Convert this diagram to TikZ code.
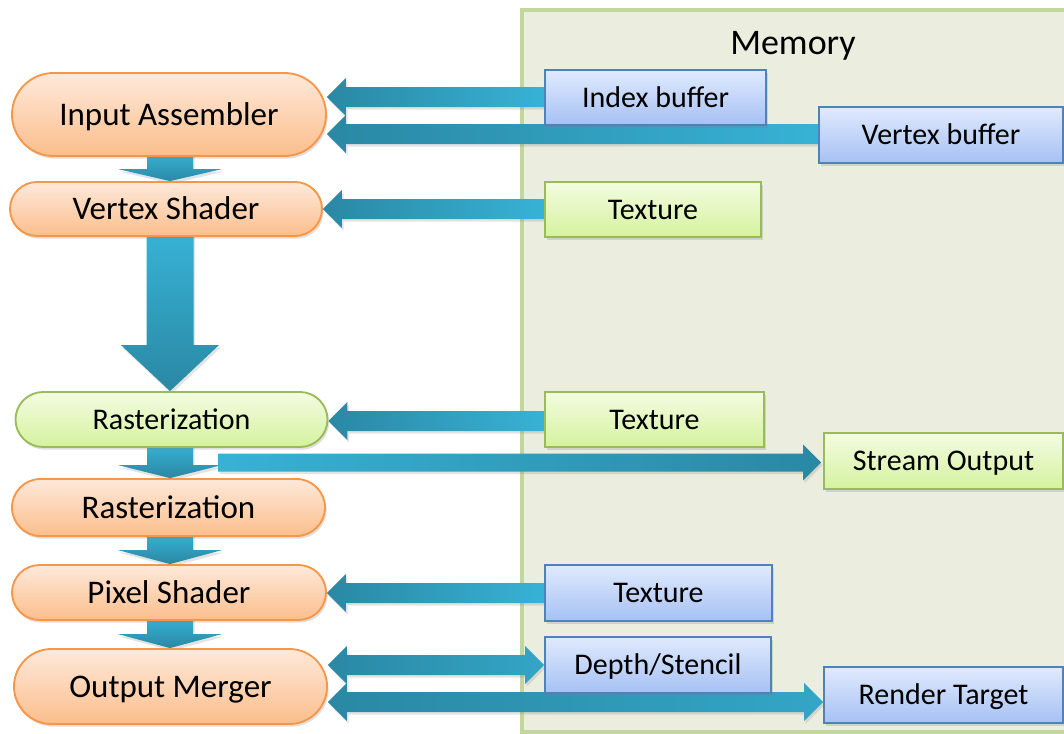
\documentclass[tikz,border=0pt]{standalone}
\usepackage{fontspec}
\setmainfont{Carlito}
\usetikzlibrary{calc,shadows,shapes.misc}
\pgfdeclarelayer{membg}
\pgfdeclarelayer{arr}
\pgfsetlayers{membg,arr,main}
\definecolor{orB}{HTML}{F79646}
\definecolor{orT}{HTML}{FEE9DA}
\definecolor{orM}{HTML}{FBBE8C}
\definecolor{grB}{HTML}{9BBB59}
\definecolor{grT}{HTML}{F3FCE2}
\definecolor{grM}{HTML}{D5F29E}
\definecolor{blB}{HTML}{4F81BD}
\definecolor{blT}{HTML}{E0EAFD}
\definecolor{blM}{HTML}{A6C1F4}
\definecolor{memF}{HTML}{EBEEDE}
\definecolor{memB}{HTML}{C3D69B}
\definecolor{alight}{HTML}{37B2D5}
\definecolor{adark}{HTML}{2A88A4}
\def\px{0.75pt}
\newcommand\leftarr[3]{%
  \shade[left color=adark, right color=alight, ashadow]
  let \p1=(#1.west), \p2=(#2.east) in
  (\x2,#3) -- (\x2+19*\px,#3-19) -- (\x2+19*\px,#3-10) -- (\x1,#3-10)
  -- (\x1,#3+10) -- (\x2+19*\px,#3+10) -- (\x2+19*\px,#3+19) -- cycle;}
\newcommand\dblarr[3]{%
  \shade[left color=adark, right color=alight!70!adark, ashadow]
  let \p1=(#1.east), \p2=(#2.west) in
  (\x1,#3) -- (\x1+19*\px,#3-19) -- (\x1+19*\px,#3-10) -- (\x2-19*\px,#3-10)
  -- (\x2-19*\px,#3-19) -- (\x2,#3) -- (\x2-19*\px,#3+19) -- (\x2-19*\px,#3+10)
  -- (\x1+19*\px,#3+10) -- (\x1+19*\px,#3+19) -- cycle;}
% #1 from node, #2 to node, #3 head length, #4 head half width, #5 shaft half width
\newcommand\downarr[5]{%
  \shade[top color=alight, bottom color=adark, ashadow]
  let \p1=(#1.south), \p2=(#2.north) in
  (170-#5,\y1+4*\px) -- (170+#5,\y1+4*\px) -- (170+#5,\y2+#3*\px) -- (170+#4,\y2+#3*\px)
  -- (170,\y2) -- (170-#4,\y2+#3*\px) -- (170-#5,\y2+#3*\px) -- cycle;}
\begin{document}
\begin{tikzpicture}[x=0.75pt,y=-0.75pt,
  ashadow/.style={drop shadow={opacity=0.22, shadow xshift=1.2pt, shadow yshift=-2pt}},
  bshadow/.style={drop shadow={opacity=0.25, shadow xshift=1.2pt, shadow yshift=-2pt}},
  stage/.style={rounded rectangle, draw=orB, line width=1.4pt, top color=orT, bottom color=orM,
    text=black, inner sep=0pt, font=\fontsize{24.75}{28}\selectfont,
    text height=15.9pt, text depth=0pt, bshadow},
  gstage/.style={stage, draw=grB, top color=grT, bottom color=grM,
    font=\fontsize{22.5}{26}\selectfont, text height=14.5pt},
  bbox/.style={rectangle, draw=blB, line width=1.4pt, top color=blT, bottom color=blM,
    text=black, inner sep=0pt, minimum height=55*\px, font=\fontsize{22.5}{26}\selectfont,
    text height=14.5pt, text depth=0pt, bshadow},
  gbox/.style={bbox, draw=grB, top color=grT, bottom color=grM}]
\useasboundingbox (0,0) rectangle (1064,733);
% memory region
\begin{pgfonlayer}{membg}
\fill[memF] (522,10) rectangle (1090,732);
\draw[memB, line width=2.4pt] (1090,732) -- (522,732) -- (522,10) -- (1090,10);
\end{pgfonlayer}
\node[font=\fontsize{27}{30}\selectfont, text height=17.4pt, text depth=0pt, inner sep=0pt] (memlabel) at (793,42.5) {Memory};
% pipeline stages
\node[stage, minimum width=314*\px, minimum height=83*\px] (ia) at (169,114.5) {Input Assembler};
\node[stage, minimum width=312*\px, minimum height=54*\px] (vs) at (166,209) {Vertex Shader};
\node[gstage, minimum width=312*\px, minimum height=55*\px] (rg) at (171.5,419.5) {Rasterization};
\node[stage, minimum width=313*\px, minimum height=57*\px] (ro) at (168.5,507.5) {Rasterization};
\node[stage, minimum width=314*\px, minimum height=55*\px] (ps) at (169,592.5) {Pixel Shader};
\node[stage, minimum width=313*\px, minimum height=75*\px] (om) at (170.5,686.5) {Output Merger};
% memory resources
\node[bbox, minimum width=221*\px] (ib) at (655.5,97.5) {Index buffer};
\node[bbox, minimum width=244*\px, minimum height=56*\px] (vb) at (941,135) {Vertex buffer};
\node[gbox, minimum width=216*\px] (t1) at (653,209.5) {Texture};
\node[gbox, minimum width=219*\px] (t2) at (654.5,419.5) {Texture};
\node[gbox, minimum width=239*\px, minimum height=56*\px] (so) at (943.5,461) {Stream Output};
\node[bbox, minimum width=227*\px, minimum height=56*\px] (t3) at (658.5,593) {Texture};
\node[bbox, minimum width=226*\px, minimum height=56*\px] (ds) at (658,665) {Depth/Stencil};
\node[bbox, minimum width=239*\px, minimum height=56*\px] (rt) at (943.5,695) {Render Target};
\coordinate (sostart) at (218,462.5);
% connectors
\begin{pgfonlayer}{arr}
\leftarr{ib}{ia}{97}
\leftarr{vb}{ia}{134}
\leftarr{t1}{vs}{209}
\leftarr{t2}{rg}{421}
\leftarr{t3}{ps}{593}
\downarr{ia}{vs}{12}{52}{23}
\downarr{vs}{rg}{46}{49}{23.5}
\downarr{rg}{ro}{13}{52}{23}
\downarr{ro}{ps}{14}{52}{23}
\downarr{ps}{om}{14}{52}{23}
\shade[left color=alight, right color=adark, ashadow]
  let \p1=(sostart), \p2=(so.west) in
  (\x2-2*\px,\y1) -- (\x2-20*\px,\y1+18*\px) -- (\x2-20*\px,\y1+9*\px) -- (\x1,\y1+9*\px)
  -- (\x1,\y1-9*\px) -- (\x2-20*\px,\y1-9*\px) -- (\x2-20*\px,\y1-18*\px) -- cycle;
\dblarr{om}{ds}{665}
\dblarr{om}{rt}{702}
\end{pgfonlayer}
\end{tikzpicture}
\end{document}
